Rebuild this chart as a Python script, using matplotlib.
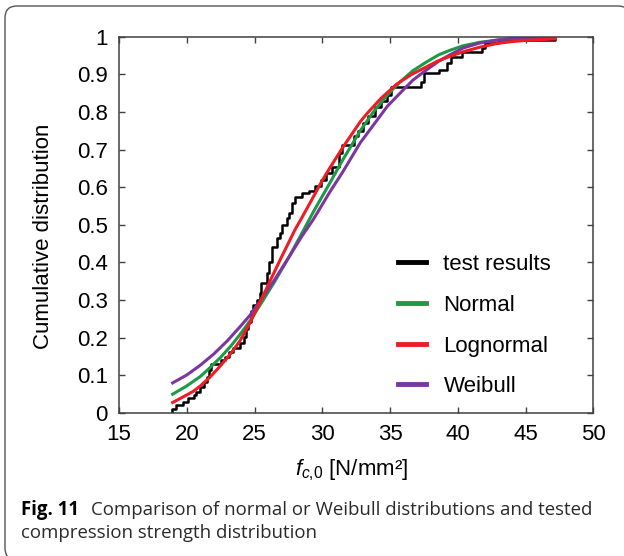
"""Cumulative distribution of tested compression strength f_c,0 compared
with fitted normal, lognormal and Weibull distributions (Fig. 11)."""

import matplotlib

matplotlib.use("Agg")
import matplotlib.pyplot as plt
from matplotlib.lines import Line2D
from matplotlib.patches import PathPatch
from matplotlib.path import Path
from matplotlib.ticker import FuncFormatter, MultipleLocator
from matplotlib.transforms import IdentityTransform

step_x = [18.9, 18.9, 19.2, 19.75, 20.1, 20.5, 20.7, 21.0, 21.3, 21.5, 21.65,
          21.8, 22.5, 22.8, 23.1, 23.4, 23.9, 24.2, 24.4, 24.55, 24.75, 24.9,
          25.2, 25.4, 25.5, 25.95, 26.1, 26.3, 26.65, 26.85, 27.0, 27.4,
          27.55, 27.8, 28.0, 28.5, 29.0, 29.5, 29.9, 30.3, 30.7, 31.2, 31.45,
          32.35, 32.6, 33.0, 33.4, 33.9, 34.3, 34.76, 35.1, 37.3, 37.5, 38.6,
          39.2, 39.5, 40.3, 41.75, 42.0, 43.0, 47.2]
step_y = [0.0, 0.010, 0.022, 0.030, 0.039, 0.048, 0.057, 0.070, 0.083, 0.095,
          0.114, 0.130, 0.140, 0.150, 0.163, 0.172, 0.185, 0.203, 0.222,
          0.243, 0.270, 0.287, 0.300, 0.318, 0.345, 0.372, 0.400, 0.442,
          0.464, 0.478, 0.500, 0.518, 0.531, 0.558, 0.575, 0.584, 0.590,
          0.602, 0.620, 0.637, 0.655, 0.690, 0.712, 0.735, 0.750, 0.770,
          0.790, 0.814, 0.830, 0.845, 0.866, 0.880, 0.903, 0.912, 0.930,
          0.945, 0.960, 0.970, 0.982, 0.990, 1.000]

# Fitted normal distribution
normal_x = [18.96, 20.0, 21.0, 21.7, 22.5, 23.3, 24.0, 24.67, 25.5, 26.5,
            27.5, 28.5, 29.35, 30.57, 31.5, 32.8, 33.77, 34.8, 35.74, 36.7,
            37.7, 38.6, 39.43, 40.4, 41.6, 42.9, 44.0, 45.3, 47.2]
normal_y = [0.050, 0.072, 0.097, 0.120, 0.148, 0.180, 0.212, 0.245, 0.292,
            0.350, 0.412, 0.478, 0.535, 0.612, 0.672, 0.750, 0.800, 0.845,
            0.880, 0.910, 0.933, 0.952, 0.964, 0.976, 0.985, 0.991, 0.995,
            0.997, 0.999]

# Fitted lognormal distribution
lognormal_x = [18.96, 20.0, 20.5, 21.0, 21.7, 22.3, 22.95, 23.5, 23.93,
               24.67, 25.35, 26.2, 27.0, 28.0, 28.4, 29.2, 30.0, 30.57, 31.5,
               32.8, 33.28, 34.3, 35.49, 36.6, 37.7, 38.5, 39.43, 40.4, 41.6,
               42.9, 44.0, 45.3, 47.2]
lognormal_y = [0.028, 0.048, 0.058, 0.072, 0.095, 0.118, 0.145, 0.170, 0.192,
               0.240, 0.290, 0.355, 0.415, 0.488, 0.513, 0.565, 0.618, 0.652,
               0.705, 0.774, 0.795, 0.835, 0.874, 0.900, 0.920, 0.935, 0.948,
               0.960, 0.972, 0.982, 0.987, 0.991, 0.994]

# Fitted Weibull distribution
weibull_x = [18.96, 20.0, 21.0, 22.0, 23.0, 24.0, 24.67, 25.5, 26.5, 27.5,
             28.5, 29.35, 30.57, 31.5, 32.8, 33.77, 34.8, 35.74, 36.7, 37.7,
             38.6, 39.43, 40.4, 41.6, 42.9, 44.0, 45.3, 47.2]
weibull_y = [0.080, 0.101, 0.127, 0.157, 0.192, 0.232, 0.260, 0.302, 0.355,
             0.412, 0.470, 0.515, 0.588, 0.640, 0.718, 0.765, 0.815, 0.850,
             0.885, 0.912, 0.935, 0.952, 0.970, 0.983, 0.991, 0.995, 0.998,
             0.999]

legend_labels = ["test results", "Normal", "Lognormal", "Weibull"]
colors = ["black", "#1d9a46", "#ee1c25", "#7b36a0"]

caption_bold = "Fig. 11"
caption_line1 = "Comparison of normal or Weibull distributions and tested"
caption_line2 = "compression strength distribution"

W, H = 624, 556


def frame_path(left, right, top, bottom, r):
    """Open rounded outline: top edge, left edge and the two left corners
    plus the top-right corner (right and bottom edges fall off-canvas)."""
    verts = [
        (right, top - r), (right, top), (right - r, top),
        (left + r, top),
        (left, top), (left, top - r),
        (left, bottom + r),
        (left, bottom), (left + r, bottom),
        (right, bottom),
    ]
    codes = [Path.MOVETO, Path.CURVE3, Path.CURVE3,
             Path.LINETO,
             Path.CURVE3, Path.CURVE3,
             Path.LINETO,
             Path.CURVE3, Path.CURVE3,
             Path.LINETO]
    return Path(verts, codes)


def plot_cdf_comparison(output_path="out.png"):
    """Draw the CDF comparison chart with its framed caption."""
    plt.rcParams["font.family"] = ["Liberation Sans", "DejaVu Sans"]
    plt.rcParams["mathtext.fontset"] = "custom"
    plt.rcParams["mathtext.rm"] = "Liberation Sans"
    plt.rcParams["mathtext.it"] = "Liberation Sans:italic"

    fig = plt.figure(figsize=(W / 100, H / 100), dpi=100)
    ax = fig.add_axes([119 / W, 1 - 413 / H, 474.3 / W, 376.3 / H])

    ax.plot(step_x, step_y, drawstyle="steps-post", color=colors[0], lw=1.8)
    ax.plot(normal_x, normal_y, color=colors[1], lw=2.2)
    ax.plot(weibull_x, weibull_y, color=colors[3], lw=2.2)
    ax.plot(lognormal_x, lognormal_y, color=colors[2], lw=2.2)

    ax.set_xlim(15, 50)
    ax.set_ylim(0, 1)
    ax.xaxis.set_major_locator(MultipleLocator(5))
    ax.yaxis.set_major_locator(MultipleLocator(0.1))
    ax.yaxis.set_major_formatter(FuncFormatter(lambda v, p: f"{v:g}"))
    ax.tick_params(direction="in", length=4, width=1, top=True, right=True,
                   labelsize=16, color="#404040", pad=8)
    for spine in ax.spines.values():
        spine.set_color("#404040")
        spine.set_linewidth(1.1)

    ax.set_ylabel("Cumulative distribution", fontsize=16, va="center")
    ax.yaxis.set_label_coords(-0.16, 0.469)
    ax.set_xlabel(r"$f_{c{,}0}$ [N/mm²]", fontsize=16, va="center")
    ax.xaxis.set_label_coords(0.49, -0.152)

    handles = [Line2D([], [], color=c, lw=3.5) for c in colors]
    ax.legend(handles, legend_labels, loc="upper left",
              bbox_to_anchor=(0.588, 0.422), frameon=False, fontsize=16,
              handlelength=1.25, handletextpad=0.8, labelspacing=0.885,
              borderpad=0, borderaxespad=0)

    # Rounded frame around figure + caption, in pixel coordinates
    frame = PathPatch(frame_path(5, 630, 550, -4, 12),
                      transform=IdentityTransform(), fill=False,
                      edgecolor="#555555", lw=1.0)
    fig.add_artist(frame)

    cap_font = ["Open Sans", "DejaVu Sans"]
    bold = fig.text(21 / W, 1 - 515 / H, caption_bold, family=cap_font,
                    fontsize=13.4, fontweight="bold", va="baseline")
    fig.canvas.draw()
    bb = bold.get_window_extent(fig.canvas.get_renderer())
    fig.text((bb.x1 + 12) / W, 1 - 515 / H, caption_line1, family=cap_font,
             fontsize=13.4, color="#2a2a2a", va="baseline")
    fig.text(21 / W, 1 - 538 / H, caption_line2, family=cap_font,
             fontsize=13.4, color="#2a2a2a", va="baseline")

    fig.savefig(output_path, dpi=100)


if __name__ == "__main__":
    plot_cdf_comparison("out.png")
